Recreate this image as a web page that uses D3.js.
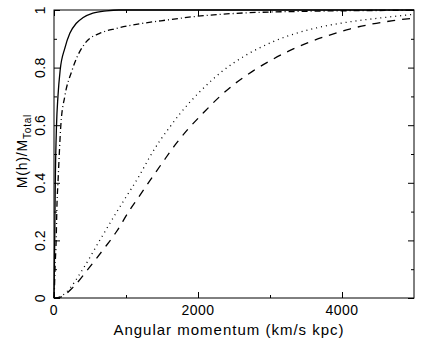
<!DOCTYPE html>
<html>
<head>
<meta charset="utf-8">
<script src="https://cdn.jsdelivr.net/npm/d3@7"></script>
<style>
  body { margin: 0; background: #fff; }
  text { font-family: "Liberation Sans", Arial, sans-serif; fill: #000; }
</style>
</head>
<body>
<svg></svg>
<script>
// cumulative mass fraction vs angular momentum, four curves
let hSolid = [0, 5, 10, 18, 35, 55, 85, 150, 220, 310, 400, 540, 730, 900, 5000]
let mSolid = [0, 0.1, 0.2, 0.4, 0.6, 0.7, 0.79, 0.867, 0.919, 0.954, 0.973, 0.989, 0.997, 1, 1]

let hDashDot = [0, 7, 14, 30, 42, 55, 95, 150, 250, 334, 450, 635, 870, 1240, 1560, 1980, 2500, 3400, 5000]
let mDashDot = [0, 0.04, 0.1, 0.2, 0.33, 0.4, 0.6, 0.7, 0.79, 0.844, 0.89, 0.919, 0.936, 0.954, 0.965, 0.978, 0.988, 0.995, 0.999]

let hDotted = [0, 80, 170, 400, 635, 867, 959, 1190, 1330, 1468, 1607, 1750, 2024, 2186, 2325, 2487, 2625, 2764, 2927, 3089, 3415, 3800, 4110, 4520, 5000]
let mDotted = [0, 0.004, 0.02, 0.1, 0.2, 0.297, 0.334, 0.427, 0.49, 0.545, 0.593, 0.64, 0.716, 0.755, 0.785, 0.815, 0.837, 0.857, 0.877, 0.895, 0.923, 0.946, 0.959, 0.972, 0.985]

let hDashed = [0, 79, 264, 473, 681, 867, 1051, 1167, 1339, 1506, 1690, 1867, 2075, 2279, 2496, 2756, 2996, 3265, 3543, 3829, 4107, 4408, 4709, 5000]
let mDashed = [0, 0.002, 0.037, 0.1, 0.167, 0.23, 0.305, 0.347, 0.41, 0.47, 0.534, 0.588, 0.643, 0.694, 0.741, 0.787, 0.823, 0.858, 0.888, 0.913, 0.934, 0.951, 0.963, 0.972]

let xMajor = [0, 2000, 4000]
let xMinor = [1000, 3000]
let yMajor = [0, 0.2, 0.4, 0.6, 0.8, 1]
let yMinor = [0.1, 0.3, 0.5, 0.7, 0.9]

let svgWidth = 428, svgHeight = 354
let plotLeft = 54, plotRight = 414, plotTop = 10, plotBottom = 298

let svg = d3.select('svg')
            .attr('width', svgWidth)
            .attr('height', svgHeight)

let x = d3.scaleLinear().domain([0, 5000]).range([plotLeft, plotRight])
let y = d3.scaleLinear().domain([0, 1]).range([plotBottom, plotTop])

// ticks point inward on all four sides
function tickAxis(axisFn, scale, vals, size, tx, ty) {
  let g = svg.append('g')
             .attr('transform', 'translate(' + tx + ',' + ty + ')')
             .call(axisFn(scale).tickValues(vals).tickSize(size).tickFormat(''))
  g.select('.domain').remove()
  g.selectAll('line').attr('stroke', '#000').attr('stroke-width', 1)
}
tickAxis(d3.axisBottom, x, xMajor, -6, 0, plotBottom)
tickAxis(d3.axisBottom, x, xMinor, -3, 0, plotBottom)
tickAxis(d3.axisTop, x, xMajor, -6, 0, plotTop)
tickAxis(d3.axisTop, x, xMinor, -3, 0, plotTop)
tickAxis(d3.axisLeft, y, yMajor, -6, plotLeft, 0)
tickAxis(d3.axisLeft, y, yMinor, -3, plotLeft, 0)
tickAxis(d3.axisRight, y, yMajor, -6, plotRight, 0)
tickAxis(d3.axisRight, y, yMinor, -3, plotRight, 0)

svg.append('rect')
   .attr('x', plotLeft).attr('y', plotTop)
   .attr('width', plotRight - plotLeft).attr('height', plotBottom - plotTop)
   .attr('fill', 'none').attr('stroke', '#000').attr('stroke-width', 1)

// tick labels
svg.selectAll('.xlab').data(xMajor).enter()
   .append('text').attr('class', 'xlab')
   .attr('x', d => x(d)).attr('y', 315)
   .attr('text-anchor', 'middle')
   .style('font-size', '14px').style('letter-spacing', '0.5px')
   .text(d => d)

svg.selectAll('.ylab').data(yMajor).enter()
   .append('text').attr('class', 'ylab')
   .attr('transform', d => 'translate(45,' + y(d) + ') rotate(-90)')
   .attr('text-anchor', 'middle')
   .style('font-size', '14px').style('letter-spacing', '0.5px')
   .text(d => d)

// axis titles
svg.append('text')
   .attr('x', 229).attr('y', 335)
   .attr('text-anchor', 'middle')
   .style('font-size', '15px').style('letter-spacing', '1px')
   .text('Angular momentum (km/s kpc)')

let ytitle = svg.append('text')
   .attr('transform', 'translate(27,151) rotate(-90)')
   .attr('text-anchor', 'middle')
   .style('font-size', '14px').style('letter-spacing', '0.8px')
ytitle.append('tspan').text('M(h)/M')
ytitle.append('tspan').attr('dy', 4).style('font-size', '10px').text('Total')

// curves
let line = d3.line()
             .x(d => x(d[0]))
             .y(d => y(d[1]))
             .curve(d3.curveMonotoneX)

let curves = [
  { h: hSolid, m: mSolid, dash: null },
  { h: hDashDot, m: mDashDot, dash: '6,3,1,3' },
  { h: hDotted, m: mDotted, dash: '1,4' },
  { h: hDashed, m: mDashed, dash: '8,7' }
]

svg.selectAll('.curve').data(curves).enter()
   .append('path').attr('class', 'curve')
   .attr('d', c => line(c.h.map((v, i) => [v, c.m[i]])))
   .attr('fill', 'none')
   .attr('stroke', '#000')
   .attr('stroke-width', 1.3)
   .attr('stroke-dasharray', c => c.dash)
</script>
</body>
</html>
